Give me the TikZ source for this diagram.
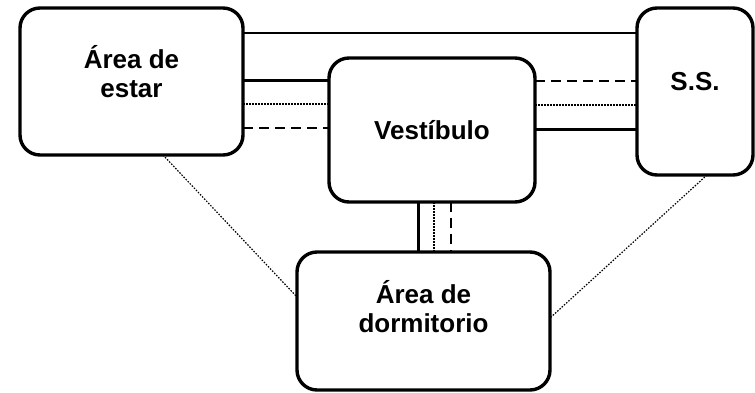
\documentclass[tikz,border=0pt]{standalone}
\usepackage{fontspec}
\setmainfont{Liberation Sans}
\usetikzlibrary{calc}
\tikzset{
  every node/.style={font=\bfseries\fontsize{26}{29}\selectfont},
  room/.style={draw, line width=3.4pt, rounded corners=20pt, align=center, outer sep=0pt, anchor=north west},
  linkmain/.style={line width=3pt},
  linkthin/.style={line width=2pt},
  linkdash/.style={line width=2.6pt, dash pattern=on 10pt off 6pt},
  linkdot/.style={line width=1.6pt, dash pattern=on 1.5pt off 1.5pt},
  tie/.style={line width=1.2pt, dash pattern=on 1.5pt off 1.5pt},
}

\begin{document}
\begin{tikzpicture}[x=1pt,y=-1pt]
  \useasboundingbox (0,0) rectangle (755,393);
  % Rooms
  \node[room, minimum width=223, minimum height=147] (estar) at (20,8) {Área de\\estar\\[-9pt]};
  \node[room, minimum width=206, minimum height=144] (vest) at (329,58) {Vestíbulo};
  \node[room, minimum width=116, minimum height=167] (ss) at (637,8) {S.S.\\[-9pt]};
  \node[room, minimum width=253, minimum height=138] (dorm) at (297,252) {Área de\\dormitorio\\[1pt]};
  % Estar to S.S.
  \draw[linkthin] (estar.east |- 0,33) -- (ss.west |- 0,33);
  % Estar to vestibulo
  \draw[linkmain] (estar.east |- 0,81) -- (vest.west |- 0,81);
  \draw[linkdot] (estar.east |- 0,104) -- (vest.west |- 0,104);
  \draw[linkdash] (estar.east |- 0,128) -- (vest.west |- 0,128);
  % Vestibulo to S.S.
  \draw[linkdash] (vest.east |- 0,81) -- (ss.west |- 0,81);
  \draw[linkdot] (vest.east |- 0,105) -- (ss.west |- 0,105);
  \draw[linkmain] (vest.east |- 0,130) -- (ss.west |- 0,130);
  % Vestibulo to dormitorio
  \draw[linkmain] (vest.south -| 418,0) -- (dorm.north -| 418,0);
  \draw[linkdot] (vest.south -| 434,0) -- (dorm.north -| 434,0);
  \draw[linkdash] (vest.south -| 451,0) -- (dorm.north -| 451,0);
  % Loose ties to dormitorio
  \draw[tie] (estar.south -| 163,0) -- (dorm.west |- 0,297);
  \draw[tie] (ss.south -| 707,0) -- (dorm.east |- 0,318);
\end{tikzpicture}
\end{document}
